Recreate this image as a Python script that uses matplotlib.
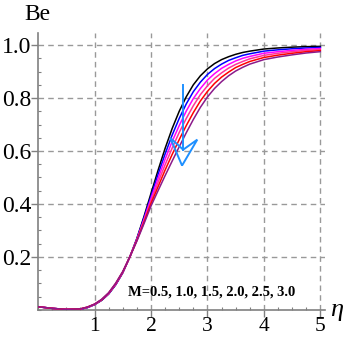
import matplotlib
matplotlib.use("Agg")
import matplotlib.pyplot as plt
from matplotlib.patches import Polygon
from matplotlib.ticker import MultipleLocator

# eta grid and curves (M = 0.5 ... 3.0)
eta = [0.0, 0.25, 0.5, 0.75, 0.875, 1.0, 1.125, 1.25, 1.375, 1.5, 1.625,
       1.75, 1.875, 2.0, 2.125, 2.25, 2.375, 2.5, 2.625, 2.75, 2.875, 3.0,
       3.125, 3.25, 3.375, 3.5, 3.625, 3.75, 4.0, 4.25, 4.5, 4.75, 5.0]

be_m05 = [0.012, 0.006, 0.002, 0.003, 0.009, 0.020, 0.036, 0.060, 0.095, 0.140, 0.200,
          0.270, 0.352, 0.440, 0.527, 0.610, 0.685, 0.750, 0.805, 0.850, 0.884, 0.910,
          0.930, 0.945, 0.956, 0.965, 0.972, 0.977, 0.985, 0.989, 0.992, 0.994, 0.995]
be_m10 = [0.012, 0.006, 0.002, 0.003, 0.009, 0.020, 0.037, 0.061, 0.096, 0.141, 0.200,
          0.268, 0.347, 0.430, 0.512, 0.589, 0.660, 0.723, 0.778, 0.824, 0.860, 0.889,
          0.911, 0.928, 0.942, 0.952, 0.961, 0.967, 0.977, 0.982, 0.986, 0.989, 0.991]
be_m15 = [0.012, 0.006, 0.002, 0.003, 0.010, 0.021, 0.038, 0.062, 0.097, 0.142, 0.200,
          0.266, 0.341, 0.421, 0.496, 0.569, 0.636, 0.696, 0.751, 0.798, 0.836, 0.868,
          0.892, 0.912, 0.927, 0.940, 0.950, 0.957, 0.969, 0.975, 0.980, 0.984, 0.987]
be_m20 = [0.012, 0.006, 0.002, 0.004, 0.010, 0.021, 0.038, 0.063, 0.099, 0.143, 0.200,
          0.264, 0.336, 0.411, 0.481, 0.548, 0.611, 0.670, 0.723, 0.771, 0.813, 0.846,
          0.874, 0.895, 0.913, 0.927, 0.938, 0.948, 0.961, 0.969, 0.975, 0.980, 0.983]
be_m25 = [0.012, 0.006, 0.002, 0.004, 0.011, 0.022, 0.039, 0.064, 0.100, 0.144, 0.200,
          0.262, 0.330, 0.402, 0.465, 0.528, 0.587, 0.643, 0.696, 0.745, 0.789, 0.825,
          0.855, 0.879, 0.898, 0.915, 0.927, 0.938, 0.953, 0.962, 0.969, 0.975, 0.979]
be_m30 = [0.012, 0.006, 0.002, 0.004, 0.011, 0.022, 0.040, 0.065, 0.101, 0.145, 0.200,
          0.260, 0.325, 0.392, 0.450, 0.507, 0.562, 0.616, 0.669, 0.719, 0.765, 0.804,
          0.836, 0.862, 0.884, 0.902, 0.916, 0.928, 0.945, 0.955, 0.963, 0.970, 0.975]

curves = [be_m05, be_m10, be_m15, be_m20, be_m25, be_m30]
colors = ['black', '#0000FF', '#FF00FF', '#FF3399', '#FF0000', '#8B1A8B']

x_ticks = [1, 2, 3, 4, 5]
y_ticks = [0.2, 0.4, 0.6, 0.8, 1.0]
y_tick_labels = ['0.2', '0.4', '0.6', '0.8', '1.0']

plt.rcParams['font.family'] = ['Liberation Serif', 'DejaVu Serif']

fig = plt.figure(figsize=(3.46, 3.38), dpi=100)
ax = fig.add_axes([0.110, 0.083, 0.829, 0.819])

axis_grey = '#808080'

for y, c in zip(curves, colors):
    ax.plot(eta, y, color=c, lw=1.1, zorder=3)

ax.set_xlim(0, 5.08)
ax.set_ylim(0, 1.045)

ax.set_xticks(x_ticks)
ax.set_yticks(y_ticks)
ax.set_yticklabels(y_tick_labels)
ax.yaxis.set_minor_locator(MultipleLocator(0.05))
ax.xaxis.set_minor_locator(MultipleLocator(0.25))

ax.grid(True, which='major', color='#999999', linestyle=(0, (4, 3)), lw=1.0)

for side in ['top', 'right']:
    ax.spines[side].set_visible(False)
for side in ['left', 'bottom']:
    ax.spines[side].set_color(axis_grey)
    ax.spines[side].set_linewidth(1.2)

ax.tick_params(which='major', direction='out', length=5, width=1.0,
               color=axis_grey, labelsize=17)
ax.tick_params(axis='x', which='major', pad=0, labelsize=15.5)
ax.tick_params(axis='y', which='major', pad=0)
ax.tick_params(which='minor', direction='in', length=2, width=0.8, color=axis_grey)

ax.text(-0.25, 1.116, 'Be', fontsize=17, ha='left', va='center', clip_on=False)
ax.text(5.28, 0.0, 'η', fontsize=19, style='italic', ha='center', va='center',
        clip_on=False)

ax.text(3.08, 0.068, 'M=0.5, 1.0, 1.5, 2.0, 2.5, 3.0', fontsize=10.5,
        fontweight='bold', ha='center', va='center')

# direction arrow (blue, open head)
arrow_blue = '#1E90FF'
ax.plot([2.57, 2.57], [0.85, 0.605], color=arrow_blue, lw=1.4, zorder=4)
ax.add_patch(Polygon([[2.34, 0.65], [2.55, 0.545], [2.82, 0.643], [2.57, 0.605]],
                     closed=True, fill=False, edgecolor=arrow_blue, lw=1.4, zorder=4))

fig.savefig('out.png', dpi=100)
